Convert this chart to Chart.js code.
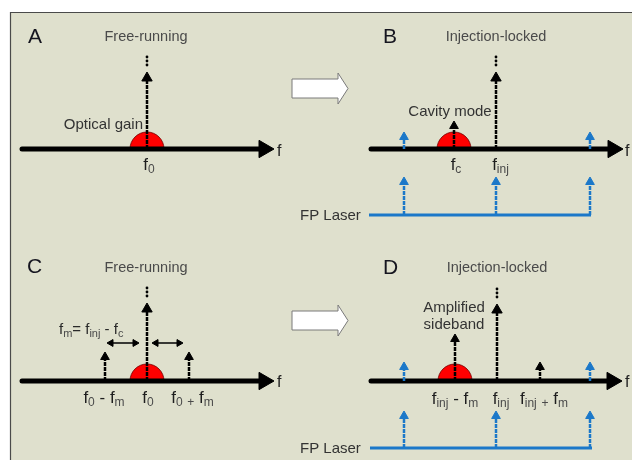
<!DOCTYPE html>
<html>
<head>
<meta charset="utf-8">
<script src="https://cdn.jsdelivr.net/npm/chart.js@4/dist/chart.umd.min.js"></script>
<style>
  html, body { margin: 0; padding: 0; background: #ffffff; }
  canvas { display: block; }
</style>
</head>
<body>
<canvas id="diagram" width="632" height="460"></canvas>
<script>
// ---- diagram content -------------------------------------------------------
const panelLetters = ['A', 'B', 'C', 'D'];
const panelTitles = ['Free-running', 'Injection-locked', 'Free-running', 'Injection-locked'];

// frequency axes: [start, tip, level]
const freqAxes = [[22, 274, 149], [371, 623, 149], [22, 274, 381], [371, 622, 381]];
// optical gain curves: [centre, level]
const gainCurves = [[147, 149], [454, 149], [147, 381], [455, 381]];
const gainHalfWidth = 17;
// strong lines (free-running mode, injected light): [frequency, level, tip]
const strongLines = [[147, 149, 72], [496, 149, 72], [147, 381, 303], [497, 381, 304]];
// weaker lines (cavity mode, modulation sidebands): [frequency, level, tip]
const weakLines = [[454, 149, 121], [105, 381, 352], [189, 381, 352], [455, 381, 334], [540, 381, 362]];
// FP laser modes falling on the slave spectrum: [frequency, level, tip]
const fpOnAxis = [[404, 149, 132], [590, 149, 132], [404, 381, 362], [590, 381, 362]];
// FP laser comb: rails [from, to, level] and lines [frequency, level, tip]
const fpRails = [[369, 591, 215], [370, 592, 448]];
const fpCombLines = [[404, 215, 177], [496, 215, 177], [590, 215, 177],
                     [404, 448, 411], [496, 448, 411], [590, 448, 411]];
// modulation spacing arrows: [from, to, level]
const spacingArrows = [[107, 139, 343], [152, 183, 343]];
// state transitions (free-running -> injection-locked): [from, to, level]
const transitions = [[292, 348, 88.5], [292, 348, 320.5]];

// text
const letterAnchors = [[28, 43], [383, 43], [27, 273], [383, 274]];
const titleAnchors = [[146, 41], [496, 41], [146, 272], [497, 272]];
const axisNames = [[277, 156], [625, 156], [277, 387], [625, 387]];
const freqLabels = [
  ['f_0', 149, 170], ['f_c', 456, 170], ['f_inj', 500.5, 170],
  ['f_0 - f_m', 104, 403], ['f_0', 148, 403], ['f_0 _+ f_m', 192.5, 403],
  ['f_inj - f_m', 455, 404], ['f_inj', 501, 404], ['f_inj _+ f_m', 544, 404]
];
const notes = [
  ['Optical gain', 143, 129, 'right'],
  ['Cavity mode', 450, 116, 'center'],
  ['Amplified', 454, 312, 'center'],
  ['sideband', 454, 329, 'center'],
  ['FP Laser', 300, 220, 'left'],
  ['FP Laser', 300, 453, 'left']
];
const spacingFormula = ['f_m= f_inj - f_c', 59, 334];

// ---- styling ---------------------------------------------------------------
const FONT = '"Liberation Sans", Arial, sans-serif';
const INK = '#000000';
const BLUE = '#1b78c9';
const PANEL = '#dfe0cd';
const LINE_DASH = [4, 1];

// ---- datasets --------------------------------------------------------------
function arrowSet(x0, y0, x1, y1, o) {
  const len = Math.hypot(x1 - x0, y1 - y0);
  const ux = (x1 - x0) / len, uy = (y1 - y0) / len;
  const rot = Math.atan2(ux, -uy) * 180 / Math.PI;
  const head = o.head;
  const start = o.both ? { x: x0 + ux * head, y: y0 + uy * head } : { x: x0, y: y0 };
  return {
    data: [start, { x: x1 - ux * head, y: y1 - uy * head }],
    showLine: true,
    borderColor: o.color,
    borderWidth: o.width,
    borderDash: o.dash || [],
    borderCapStyle: o.cap || 'butt',
    pointStyle: 'triangle',
    pointRadius: [o.both ? head : 0, head],
    pointRotation: [rot + 180, rot],
    pointBackgroundColor: o.color,
    pointBorderColor: o.color,
    pointBorderWidth: 1,
    order: o.order,
    clip: false,
    tension: 0
  };
}

const datasets = [];
freqAxes.forEach(([a, b, lvl]) =>
  datasets.push(arrowSet(a, lvl, b, lvl, { color: INK, width: 5, head: 10, cap: 'round', order: 20 })));
fpRails.forEach(([a, b, lvl]) =>
  datasets.push({
    data: [{ x: a, y: lvl }, { x: b, y: lvl }], showLine: true, borderColor: BLUE,
    borderWidth: 3, pointRadius: 0, order: 20, clip: false
  }));
strongLines.forEach(([f, lvl, tip]) =>
  datasets.push(arrowSet(f, lvl, f, tip, { color: INK, width: 2.5, head: 6, dash: LINE_DASH, order: 5 })));
weakLines.forEach(([f, lvl, tip]) =>
  datasets.push(arrowSet(f, lvl, f, tip, { color: INK, width: 2.5, head: 5, dash: LINE_DASH, order: 5 })));
fpOnAxis.concat(fpCombLines).forEach(([f, lvl, tip]) =>
  datasets.push(arrowSet(f, lvl, f, tip, { color: BLUE, width: 2.5, head: 5, dash: LINE_DASH, order: 5 })));
spacingArrows.forEach(([a, b, lvl]) =>
  datasets.push(arrowSet(a, lvl, b, lvl, { color: INK, width: 1.5, head: 4, both: true, order: 5 })));
// continuation dots above the strong lines
datasets.push({
  data: strongLines.flatMap(([f, , tip]) => [{ x: f, y: tip - 7 }, { x: f, y: tip - 11 }, { x: f, y: tip - 15 }]),
  showLine: false, pointStyle: 'circle', pointRadius: 1.4,
  pointBackgroundColor: INK, pointBorderColor: INK, pointBorderWidth: 0, order: 5, clip: false
});

// ---- drawing helpers -------------------------------------------------------
function richText(ctx, str, x, y, align, main, sub, mainColor, subColor) {
  const parts = str.split(/(_[A-Za-z0-9+]+)/).filter(p => p.length);
  const runs = parts.map(p => p[0] === '_'
    ? { t: p.slice(1), font: sub + 'px ' + FONT, color: subColor, dy: 3 }
    : { t: p, font: main + 'px ' + FONT, color: mainColor, dy: 0 });
  let total = 0;
  runs.forEach(r => { ctx.font = r.font; r.w = ctx.measureText(r.t).width; total += r.w; });
  let cx = align === 'center' ? x - total / 2 : align === 'right' ? x - total : x;
  ctx.textAlign = 'left';
  ctx.textBaseline = 'alphabetic';
  runs.forEach(r => {
    ctx.font = r.font; ctx.fillStyle = r.color;
    ctx.fillText(r.t, cx, y + r.dy);
    cx += r.w;
  });
}

const backdrop = {
  id: 'backdrop',
  beforeDraw(chart) {
    const { ctx, scales: { x, y } } = chart;
    const left = x.getPixelForValue(10), top = y.getPixelForValue(12);
    const right = x.getPixelForValue(632), bottom = y.getPixelForValue(460);
    ctx.save();
    ctx.fillStyle = '#ffffff';
    ctx.fillRect(0, 0, chart.width, chart.height);
    ctx.fillStyle = PANEL;
    ctx.fillRect(left, top, right - left, bottom - top);
    ctx.strokeStyle = '#4a4a4a';
    ctx.lineWidth = 1.2;
    ctx.beginPath();
    ctx.moveTo(left + 0.5, bottom);
    ctx.lineTo(left + 0.5, top + 0.5);
    ctx.lineTo(right, top + 0.5);
    ctx.stroke();
    ctx.restore();
  },
  beforeDatasetsDraw(chart) {
    const { ctx, scales: { x, y } } = chart;
    ctx.save();
    // gain curves
    gainCurves.forEach(([c, lvl]) => {
      const px = x.getPixelForValue(c), py = y.getPixelForValue(lvl);
      const r = x.getPixelForValue(c + gainHalfWidth) - px;
      ctx.beginPath();
      ctx.arc(px, py, r, Math.PI, 2 * Math.PI);
      ctx.closePath();
      ctx.fillStyle = '#ff0000';
      ctx.fill();
      ctx.strokeStyle = '#6e0000';
      ctx.lineWidth = 0.8;
      ctx.stroke();
    });
    // hollow transition arrows
    transitions.forEach(([a, b, lvl]) => {
      const x0 = x.getPixelForValue(a), x1 = x.getPixelForValue(b), py = y.getPixelForValue(lvl);
      const neck = x1 - 10;
      ctx.beginPath();
      ctx.moveTo(x0, py - 9.5);
      ctx.lineTo(neck, py - 9.5);
      ctx.lineTo(neck, py - 15.5);
      ctx.lineTo(x1, py);
      ctx.lineTo(neck, py + 15.5);
      ctx.lineTo(neck, py + 9.5);
      ctx.lineTo(x0, py + 9.5);
      ctx.closePath();
      ctx.fillStyle = '#ffffff';
      ctx.fill();
      ctx.strokeStyle = '#7a7a7a';
      ctx.lineWidth = 1;
      ctx.stroke();
    });
    ctx.restore();
  }
};

const annotations = {
  id: 'annotations',
  afterDatasetsDraw(chart) {
    const { ctx, scales: { x, y } } = chart;
    const X = v => x.getPixelForValue(v), Y = v => y.getPixelForValue(v);
    ctx.save();
    ctx.textBaseline = 'alphabetic';
    panelLetters.forEach((t, i) => {
      ctx.font = '21px ' + FONT; ctx.fillStyle = '#15151f'; ctx.textAlign = 'left';
      ctx.fillText(t, X(letterAnchors[i][0]), Y(letterAnchors[i][1]));
    });
    panelTitles.forEach((t, i) => {
      ctx.font = '14.5px ' + FONT; ctx.fillStyle = '#4a4a4a'; ctx.textAlign = 'center';
      ctx.fillText(t, X(titleAnchors[i][0]), Y(titleAnchors[i][1]));
    });
    axisNames.forEach(([ax, ay]) => {
      ctx.font = '16px ' + FONT; ctx.fillStyle = '#222222'; ctx.textAlign = 'left';
      ctx.fillText('f', X(ax), Y(ay));
    });
    notes.forEach(([t, nx, ny, al]) => {
      ctx.font = '15px ' + FONT; ctx.fillStyle = '#333333'; ctx.textAlign = al;
      ctx.fillText(t, X(nx), Y(ny));
    });
    freqLabels.forEach(([t, fx, fy]) =>
      richText(ctx, t, X(fx), Y(fy), 'center', 17, 12, '#1e1e1e', '#4a4a4a'));
    richText(ctx, spacingFormula[0], X(spacingFormula[1]), Y(spacingFormula[2]), 'left', 15, 11, '#2a2a2a', '#4a4a4a');
    ctx.restore();
  }
};

new Chart(document.getElementById('diagram'), {
  type: 'scatter',
  data: { datasets },
  options: {
    responsive: false,
    animation: false,
    devicePixelRatio: 1,
    events: [],
    layout: { padding: 0, autoPadding: false },
    plugins: { legend: { display: false }, tooltip: { enabled: false } },
    scales: {
      x: { type: 'linear', min: 0, max: 632, display: false },
      y: { type: 'linear', min: 0, max: 460, reverse: true, display: false }
    }
  },
  plugins: [backdrop, annotations]
});
</script>
</body>
</html>
